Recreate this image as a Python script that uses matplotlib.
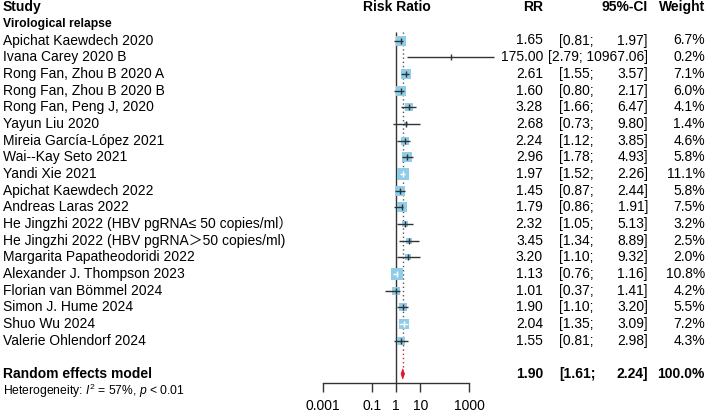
import numpy as np
import matplotlib

matplotlib.use('Agg')
import matplotlib.pyplot as plt
from matplotlib import transforms
from matplotlib.patches import Polygon

plt.rcParams['font.family'] = ['Liberation Sans', 'Noto Sans CJK SC', 'DejaVu Sans']
plt.rcParams['mathtext.fontset'] = 'custom'
plt.rcParams['mathtext.rm'] = 'Liberation Sans'
plt.rcParams['mathtext.it'] = 'Liberation Sans:italic'

studies = [
    "Apichat Kaewdech 2020",
    "Ivana Carey 2020 B",
    "Rong Fan, Zhou B 2020 A",
    "Rong Fan, Zhou B 2020 B",
    "Rong Fan, Peng J, 2020",
    "Yayun Liu 2020",
    "Mireia García-López 2021",
    "Wai--Kay Seto 2021",
    "Yandi Xie 2021",
    "Apichat Kaewdech 2022",
    "Andreas Laras 2022",
    "He Jingzhi 2022 (HBV pgRNA≤ 50 copies/ml）",
    "He Jingzhi 2022 (HBV pgRNA＞50 copies/ml)",
    "Margarita Papatheodoridi 2022",
    "Alexander J. Thompson 2023",
    "Florian van Bömmel 2024",
    "Simon J. Hume 2024",
    "Shuo Wu 2024",
    "Valerie Ohlendorf 2024",
]
rr = [1.65, 175.00, 2.61, 1.60, 3.28, 2.68, 2.24, 2.96, 1.97, 1.45, 1.79,
      2.32, 3.45, 3.20, 1.13, 1.01, 1.90, 2.04, 1.55]
lower = [0.81, 2.79, 1.55, 0.80, 1.66, 0.73, 1.12, 1.78, 1.52, 0.87, 0.86,
         1.05, 1.34, 1.10, 0.76, 0.37, 1.10, 1.35, 0.81]
upper = [1.97, 10967.06, 3.57, 2.17, 6.47, 9.80, 3.85, 4.93, 2.26, 2.44, 1.91,
         5.13, 8.89, 9.32, 1.16, 1.41, 3.20, 3.09, 2.98]
weights = [6.7, 0.2, 7.1, 6.0, 4.1, 1.4, 4.6, 5.8, 11.1, 5.8, 7.5,
           3.2, 2.5, 2.0, 10.8, 4.2, 5.5, 7.2, 4.3]

pooled_rr, pooled_lo, pooled_hi = 1.90, 1.61, 2.24
heterogeneity = r"Heterogeneity: $I^2$ = 57%, $p$ < 0.01"
xticks = [0.001, 0.1, 1, 10, 1000]

W, H = 709, 413
fig = plt.figure(figsize=(W / 100, H / 100), dpi=100)

# forest axes: x from 0.001 to 1000, rows in data units (row 0 = first study)
row_px = 16.67
top_row_px = 40.5
axis_px = 383
ax_left, ax_right = 323, 469
r_top = -top_row_px / row_px
r_bot = (axis_px - top_row_px) / row_px
ax = fig.add_axes([ax_left / W, (H - axis_px) / H, (ax_right - ax_left) / W, axis_px / H])
ax.set_xscale('log')
ax.set_xlim(0.001, 1000)
ax.set_ylim(r_bot, r_top)
ax.patch.set_visible(False)
for s in ['top', 'left', 'right']:
    ax.spines[s].set_visible(False)
ax.spines['bottom'].set_color('#333333')
ax.spines['bottom'].set_linewidth(1)
ax.set_yticks([])
ax.set_xticks(xticks)
ax.set_xticklabels(['0.001', '0.1', '1', '10', '1000'])
ax.minorticks_off()
ax.tick_params(axis='x', length=6.5, width=1, color='#333333', labelsize=10, pad=5)

px_per_dec = (ax_right - ax_left) / 6.0
box_max_px = 12.7
w_max = max(weights)
rows = np.arange(len(studies))

# reference lines
ax.vlines(1, -0.5, r_bot, color='#333333', lw=1, zorder=1)
ax.vlines(pooled_rr, -0.5, 18.5, color='#555555', lw=1, linestyles=(0, (1, 2)), zorder=1)
ax.vlines(pooled_rr, 18.5, 19.7, color='#d62035', lw=1, linestyles=(0, (1, 2)), zorder=1)

for i in rows:
    side = box_max_px * np.sqrt(weights[i] / w_max)
    half_dec = side / 2 / px_per_dec
    c = np.log10(rr[i])
    inside = (np.log10(lower[i]) >= c - half_dec) and (np.log10(upper[i]) <= c + half_dec)
    lc = 'white' if inside else '#333333'
    ax.plot(rr[i], i, marker='s', markersize=side * 0.72, color='#8fcde8',
            markeredgewidth=0, zorder=2)
    ax.hlines(i, lower[i], upper[i], color=lc, lw=1, zorder=3, clip_on=False)
    ax.plot(rr[i], i, marker='|', markersize=4, color=lc, markeredgewidth=1, zorder=3)

# pooled diamond
dh = 0.3
diamond = Polygon([(pooled_lo, 20), (pooled_rr, 20 - dh), (pooled_hi, 20), (pooled_rr, 20 + dh)],
                  closed=True, facecolor='#e0162b', edgecolor='#e0162b', lw=0.5, zorder=4)
ax.add_patch(diamond)

# text columns
tr = transforms.blended_transform_factory(fig.transFigure, ax.transData)
x_study = 3 / W
x_rr = 543 / W
x_lo = 559 / W
x_hi = 648 / W
x_w = 705 / W
fs = 10

def txt(x, y, s, ha='left', **kw):
    ax.text(x, y, s, transform=tr, ha=ha, va='center', fontsize=kw.pop('size', fs),
            clip_on=False, **kw)

txt(x_study, -2, "Study", weight='bold')
txt(396.5 / W, -2, "Risk Ratio", ha='center', weight='bold')
txt(x_rr, -2, "RR", ha='right', weight='bold')
txt(x_hi, -2, "95%-CI", ha='right', weight='bold')
txt(x_w, -2, "Weight", ha='right', weight='bold')
txt(x_study, -1, "Virological relapse", weight='bold', size=8.7)

for i in rows:
    txt(x_study, i, studies[i])
    txt(x_rr, i, f"{rr[i]:.2f}", ha='right')
    if upper[i] >= 1000:
        txt(x_hi, i, f"[{lower[i]:.2f}; {upper[i]:.2f}]", ha='right')
    else:
        txt(x_lo, i, f"[{lower[i]:.2f};")
        txt(x_hi, i, f"{upper[i]:.2f}]", ha='right')
    txt(x_w, i, f"{weights[i]:.1f}%", ha='right')

txt(x_study, 20, "Random effects model", weight='bold')
txt(x_rr, 20, f"{pooled_rr:.2f}", ha='right', weight='bold')
txt(x_lo, 20, f"[{pooled_lo:.2f};", weight='bold')
txt(x_hi, 20, f"{pooled_hi:.2f}]", ha='right', weight='bold')
txt(x_w, 20, "100.0%", ha='right', weight='bold')
txt(x_study, 21, heterogeneity, size=8.7)

fig.savefig('out.png', dpi=100)
